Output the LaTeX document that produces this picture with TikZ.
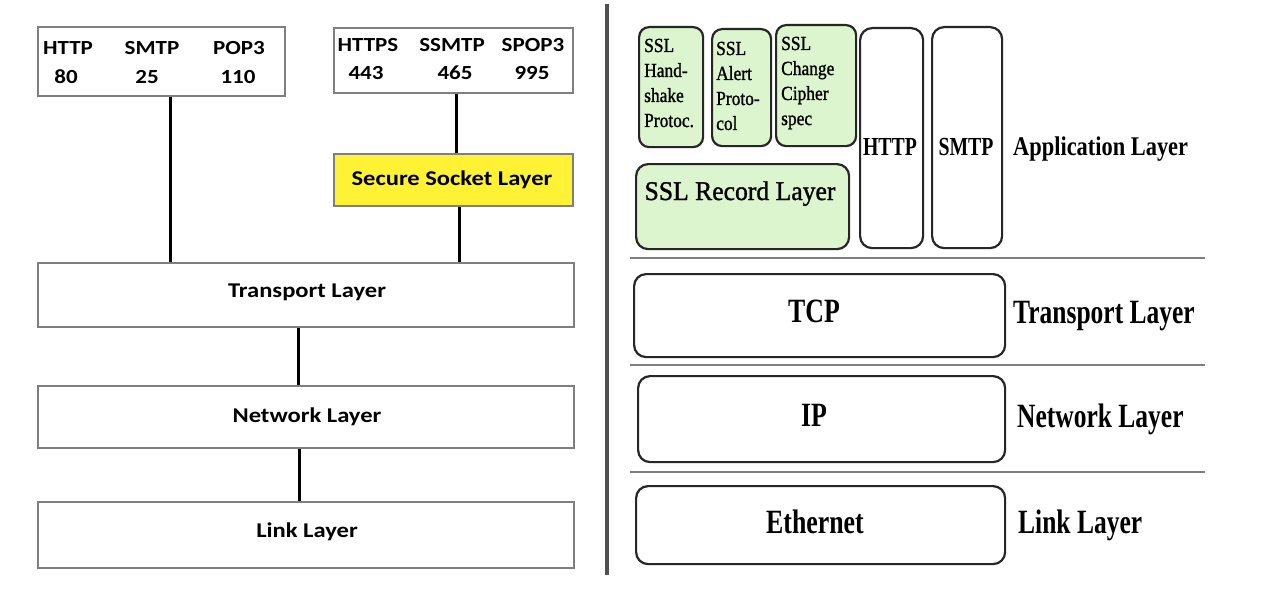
\documentclass[tikz,border=0pt]{standalone}
\usepackage{fontspec}
\setmainfont{Liberation Serif}
\newfontfamily\calfont{Carlito}
\newfontfamily\semifont[FakeBold=1.3]{Liberation Serif}
\definecolor{boxgray}{HTML}{7F7F7F}
\definecolor{sepgray}{HTML}{505050}
\definecolor{sslyellow}{HTML}{FFF133}
\definecolor{sslgreen}{HTML}{DDF5CE}
\newcommand{\LT}[3]{\scalebox{#1}[1]{\calfont\bfseries\fontsize{#2}{#2}\selectfont #3}}
\newcommand{\RT}[3]{\scalebox{#1}[1]{\rmfamily\bfseries\fontsize{#2}{#2}\selectfont #3}}
\newcommand{\RN}[3]{\scalebox{#1}[1]{\semifont\fontsize{#2}{#2}\selectfont #3}}
\newcommand{\RS}[1]{\scalebox{0.87}[1]{\semifont\fontsize{20}{25}\selectfont\begin{tabular}[t]{@{}l@{}}#1\end{tabular}}}
\tikzset{
  sqbox/.style={draw=boxgray, line width=2pt, inner sep=0pt, anchor=north west},
  rbox/.style={draw=black!85, line width=2.2pt, rounded corners=10pt, inner sep=0pt, anchor=north west},
  conn/.style={line width=3pt, black},
  txt/.style={inner sep=0pt, anchor=base},
  txtw/.style={inner sep=0pt, anchor=base west},
  hsep/.style={draw=boxgray, line width=2pt},
}
\begin{document}
\begin{tikzpicture}[x=1pt,y=-1pt]
\useasboundingbox (0,0) rectangle (1282,610);
\fill[white] (0,0) rectangle (1282,610);
% ---------------- left half ----------------
\node[sqbox, minimum width=247, minimum height=69] (top1) at (37,26) {};
\node[sqbox, minimum width=239, minimum height=65] (top2) at (333,27) {};
\node[sqbox, fill=sslyellow, minimum width=239, minimum height=52] (ssl) at (333,153) {};
\node[sqbox, minimum width=536, minimum height=64] (trans) at (37,262) {};
\node[sqbox, minimum width=536, minimum height=62] (net) at (37,385) {};
\node[sqbox, minimum width=536, minimum height=66] (link) at (37,501) {};

\node[txt] (t1a) at (68,55) {\LT{1.15}{20}{HTTP}};
\node[txt] (t1b) at (152,55) {\LT{1.15}{20}{SMTP}};
\node[txt] (t1c) at (239,55) {\LT{1.15}{20}{POP3}};
\node[txt] (t1d) at (66,83) {\LT{1.15}{20}{80}};
\node[txt] (t1e) at (147,83) {\LT{1.15}{20}{25}};
\node[txt] (t1f) at (238,83) {\LT{1.15}{20}{110}};

\node[txt] (t2a) at (368,52) {\LT{1.15}{20}{HTTPS}};
\node[txt] (t2b) at (452,52) {\LT{1.15}{20}{SSMTP}};
\node[txt] (t2c) at (533,52) {\LT{1.15}{20}{SPOP3}};
\node[txt] (t2d) at (366,80) {\LT{1.15}{20}{443}};
\node[txt] (t2e) at (455,80) {\LT{1.15}{20}{465}};
\node[txt] (t2f) at (532,80) {\LT{1.15}{20}{995}};

\node[txt] (sslt) at (452,185) {\LT{1.17}{21}{Secure Socket Layer}};
\node[txt] (transt) at (307,297) {\LT{1.17}{21}{Transport Layer}};
\node[txt] (nett) at (307,422) {\LT{1.17}{21}{Network Layer}};
\node[txt] (linkt) at (307,537) {\LT{1.17}{21}{Link Layer}};

\coordinate (xa) at (170,0);
\coordinate (xb) at (456,0);
\coordinate (xc) at (459,0);
\coordinate (xd) at (298,0);
\coordinate (xe) at (299,0);
\draw[conn] (top1.south -| xa) -- (trans.north -| xa);
\draw[conn] (top2.south -| xb) -- (ssl.north -| xb);
\draw[conn] (ssl.south -| xc) -- (trans.north -| xc);
\draw[conn] (trans.south -| xd) -- (net.north -| xd);
\draw[conn] (net.south -| xe) -- (link.north -| xe);

% ---------------- separator ----------------
\draw[draw=sepgray, line width=4pt] (607,4) -- (607,575);

% ---------------- right half ----------------
\node[rbox, fill=sslgreen, minimum width=64, minimum height=120] (hs) at (638,26) {};
\node[rbox, fill=sslgreen, minimum width=59, minimum height=117] (al) at (711,28) {};
\node[rbox, fill=sslgreen, minimum width=80, minimum height=121] (cc) at (775,24) {};
\node[rbox, fill=sslgreen, minimum width=213, minimum height=85, rounded corners=12pt] (rec) at (635,163) {};
\node[rbox, minimum width=63, minimum height=220, rounded corners=12pt] (httpb) at (859,27) {};
\node[rbox, minimum width=70, minimum height=221, rounded corners=12pt] (smtpb) at (931,26) {};
\node[rbox, minimum width=371, minimum height=83, rounded corners=12pt] (tcp) at (633,273) {};
\node[rbox, minimum width=367, minimum height=86, rounded corners=12pt] (ip) at (637,375) {};
\node[rbox, minimum width=369, minimum height=78, rounded corners=12pt] (eth) at (635,485) {};

\node[txtw] (hst) at (644,52) {\RS{SSL\\Hand-\\shake\\Protoc.}};
\node[txtw] (alt) at (716,55) {\RS{SSL\\Alert\\Proto-\\col}};
\node[txtw] (cct) at (781,50) {\RS{SSL\\Change\\Cipher\\spec}};
\node[txt] (rect) at (740,200) {\RN{0.95}{27}{SSL Record Layer}};
\node[txt] (httpt) at (890,155) {\RT{0.76}{26}{HTTP}};
\node[txt] (smtpt) at (966,155) {\RT{0.76}{26}{SMTP}};
\node[txtw] (appl) at (1013,155) {\RT{0.83}{27}{Application Layer}};

\node[txt] (tcpt) at (814,322) {\RT{0.76}{34}{TCP}};
\node[txt] (ipt) at (814,426) {\RT{0.76}{34}{IP}};
\node[txt] (etht) at (815,533) {\RT{0.76}{34}{Ethernet}};
\node[txtw] (tl) at (1013,323) {\RT{0.75}{34}{Transport Layer}};
\node[txtw] (nl) at (1017,427) {\RT{0.75}{34}{Network Layer}};
\node[txtw] (ll) at (1018,533) {\RT{0.75}{34}{Link Layer}};

\draw[hsep] (630,258) -- (1205,258);
\draw[hsep] (630,365) -- (1205,365);
\draw[hsep] (630,472) -- (1205,472);
\end{tikzpicture}
\end{document}
